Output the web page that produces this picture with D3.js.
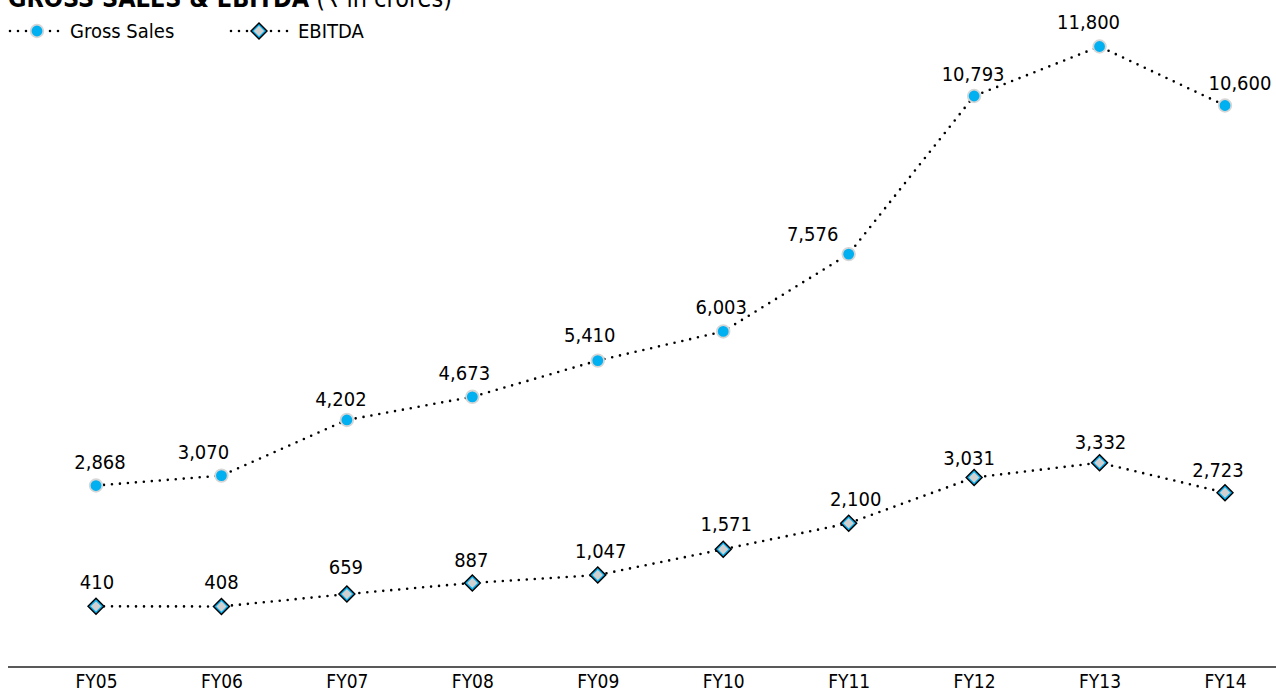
<!DOCTYPE html>
<html><head><meta charset="utf-8">
<script src="https://cdn.jsdelivr.net/npm/d3@7/dist/d3.min.js"></script>
<style>body{margin:0;background:#fff;}svg{display:block;font-family:"DejaVu Sans Condensed","DejaVu Sans",sans-serif;font-stretch:condensed;}</style>
</head><body>
<svg id="c" width="1276" height="695"></svg>
<script>
const categories = ["FY05","FY06","FY07","FY08","FY09","FY10","FY11","FY12","FY13","FY14"];
const grossSales = [2868,3070,4202,4673,5410,6003,7576,10793,11800,10600];
const ebitda = [410,408,659,887,1047,1571,2100,3031,3332,2723];
const seriesNames = ["Gross Sales","EBITDA"];
// label nudges (dx, dy) relative to the marker
const grossLabelDx = [4,-18,-6,-8,-8,-2,-36,-1,-11,15];
const grossLabelDy = [-17,-17,-14,-17,-19,-17,-13,-15,-18,-15];
const ebitdaLabelDx = [1,0,-1,-1,3,3,7,-5,1,-7];
const ebitdaLabelDy = [-17,-17,-20,-16,-17,-18,-17,-13,-14,-16];

const FONT = "DejaVu Sans Condensed, DejaVu Sans, sans-serif";
const svg = d3.select("#c");
const x = d3.scalePoint().domain(categories).range([96,1225]);
const y = d3.scaleLinear().domain([-824,11800]).range([667,46.5]);
const fmt = d3.format(",");

// axis
const ax = svg.append("g").attr("transform","translate(0,667)")
  .call(d3.axisBottom(x).tickSize(0).tickPadding(8));
ax.select(".domain").remove();
ax.selectAll("text").attr("font-size",19).attr("fill","#000").attr("font-family",FONT);
svg.append("line").attr("x1",8).attr("x2",1276).attr("y1",667).attr("y2",667).attr("stroke","#222").attr("stroke-width",1.5);

// title
const t = svg.append("text").attr("x",8).attr("y",7).attr("font-size",25);
t.append("tspan").attr("font-weight","bold").text("GROSS SALES & EBITDA");
t.append("tspan").text(" (₹ in crores)");

const line = d3.line().x((d,i)=>x(categories[i])).y(d=>y(d));
function dotted(sel){
  return sel.attr("fill","none").attr("stroke","#000")
    .attr("stroke-width",2.6).attr("stroke-dasharray","0 8").attr("stroke-linecap","round");
}
function circle(g,cx,cy){
  g.append("circle").attr("cx",cx).attr("cy",cy).attr("r",6.3).attr("fill","#00B0F0").attr("stroke","#d6d6d6").attr("stroke-width",1.8);
}
function dpath(cx,cy,s){return `M${cx},${cy-s}L${cx+s},${cy}L${cx},${cy+s}L${cx-s},${cy}Z`;}
function diamond(g,cx,cy){
  g.append("path").attr("d",dpath(cx,cy,9)).attr("fill","#000");
  g.append("path").attr("d",dpath(cx,cy,7)).attr("fill","#00B0F0");
  g.append("path").attr("d",dpath(cx,cy,5.2)).attr("fill","#d0d0d0");
}

dotted(svg.append("path").attr("d",line(grossSales)));
dotted(svg.append("path").attr("d",line(ebitda)));
const g = svg.append("g");
grossSales.forEach((v,i)=>circle(g,x(categories[i]),y(v)));
ebitda.forEach((v,i)=>diamond(g,x(categories[i]),y(v)));

const lab = svg.append("g").attr("font-size",20).attr("text-anchor","middle").attr("font-family",FONT);
grossSales.forEach((v,i)=>{
  lab.append("text").attr("x",x(categories[i])+grossLabelDx[i]).attr("y",y(v)+grossLabelDy[i]).text(fmt(v));
});
ebitda.forEach((v,i)=>{
  lab.append("text").attr("x",x(categories[i])+ebitdaLabelDx[i]).attr("y",y(v)+ebitdaLabelDy[i]).text(fmt(v));
});

// legend
const lg = svg.append("g");
dotted(lg.append("line").attr("x1",10).attr("x2",66).attr("y1",31).attr("y2",31));
circle(lg,37,31);
lg.append("text").attr("x",70).attr("y",38).attr("font-size",20).attr("font-family",FONT).text(seriesNames[0]);
dotted(lg.append("line").attr("x1",231).attr("x2",289).attr("y1",31).attr("y2",31));
diamond(lg,259,31);
lg.append("text").attr("x",298).attr("y",38).attr("font-size",20).attr("font-family",FONT).text(seriesNames[1]);
</script>
</body></html>
